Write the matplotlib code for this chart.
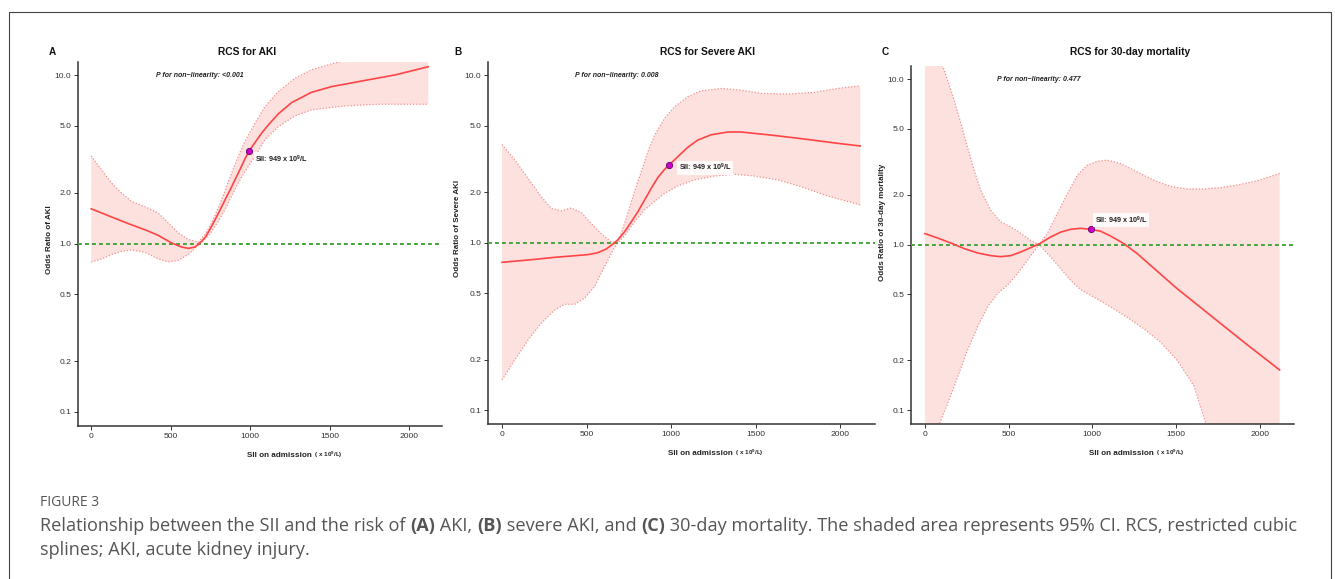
import numpy as np
import matplotlib
matplotlib.use('Agg')
import matplotlib.pyplot as plt
from matplotlib.lines import Line2D

plt.rcParams['font.family'] = ['Liberation Sans', 'DejaVu Sans']
plt.rcParams['mathtext.fontset'] = 'custom'
plt.rcParams['mathtext.rm'] = 'Liberation Sans'
plt.rcParams['mathtext.bf'] = 'Liberation Sans:bold'

W, H = 1335, 579

# ---- data (SII x10^9/L  ->  odds ratio) ----
# A: AKI
a_fit_x = [0, 128, 233, 337, 421, 505, 568, 610, 652, 694, 720, 757, 799, 840, 882, 924,
           966, 991, 1029, 1071, 1113, 1176, 1260, 1385, 1511, 1700, 1909, 2119]
a_fit = [1.61, 1.44, 1.315, 1.21, 1.12, 1.01, 0.955, 0.937, 0.955, 1.03, 1.10, 1.27, 1.51, 1.81,
         2.17, 2.62, 3.18, 3.54, 3.98, 4.53, 5.07, 5.90, 6.89, 7.93, 8.57, 9.25, 10.05, 11.25]
a_up_x = [0, 65, 128, 191, 254, 337, 421, 484, 547, 610, 673, 715, 757, 799, 840, 882, 924,
          966, 1029, 1092, 1176, 1281, 1385, 1511, 1595, 1800, 2119]
a_up = [3.32, 2.75, 2.29, 2.0, 1.78, 1.66, 1.52, 1.33, 1.16, 1.06, 1.02, 1.13, 1.33, 1.63, 2.04,
        2.62, 3.30, 4.04, 5.19, 6.52, 8.0, 9.6, 10.8, 11.7, 12.3, 13.0, 14.0]
a_lo_x = [0, 65, 128, 191, 254, 337, 421, 484, 547, 610, 673, 715, 757, 799, 840, 882, 924,
          966, 1029, 1092, 1176, 1281, 1385, 1595, 1805, 2119]
a_lo = [0.778, 0.811, 0.861, 0.901, 0.917, 0.889, 0.811, 0.778, 0.796, 0.861, 0.977, 1.06, 1.18,
        1.36, 1.59, 1.91, 2.29, 2.68, 3.30, 4.14, 4.96, 5.74, 6.23, 6.58, 6.73, 6.73]

# B: severe AKI
b_fit_x = [0, 114, 213, 311, 409, 508, 567, 616, 656, 685, 724, 764, 803, 843, 882, 921, 961,
           988, 1039, 1098, 1157, 1236, 1335, 1413, 1591, 1787, 1984, 2118]
b_fit = [0.763, 0.781, 0.798, 0.817, 0.832, 0.848, 0.871, 0.916, 0.982, 1.04, 1.16, 1.33, 1.53,
         1.80, 2.11, 2.45, 2.74, 2.91, 3.26, 3.71, 4.10, 4.41, 4.58, 4.58, 4.39, 4.16, 3.92, 3.78]
b_up_x = [0, 75, 154, 232, 291, 350, 409, 469, 528, 587, 646, 675, 705, 744, 783, 823, 862, 902,
          961, 1020, 1098, 1177, 1295, 1413, 1532, 1689, 1846, 1984, 2118]
b_up = [3.86, 3.12, 2.42, 1.88, 1.60, 1.55, 1.61, 1.51, 1.30, 1.13, 1.01, 1.0, 1.14, 1.50, 2.02,
        2.65, 3.49, 4.39, 5.52, 6.49, 7.44, 8.08, 8.34, 8.15, 7.79, 7.72, 7.90, 8.34, 8.65]
b_lo_x = [0, 75, 154, 232, 311, 370, 429, 488, 547, 606, 656, 685, 724, 783, 843, 902, 961, 1039,
          1138, 1256, 1374, 1492, 1630, 1768, 1925, 2118]
b_lo = [0.151, 0.199, 0.262, 0.330, 0.396, 0.428, 0.428, 0.466, 0.546, 0.719, 0.904, 1.0, 1.10,
        1.33, 1.57, 1.76, 1.97, 2.18, 2.37, 2.50, 2.56, 2.50, 2.37, 2.16, 1.90, 1.68]

# C: 30-day mortality
c_fit_x = [0, 76, 155, 235, 314, 394, 453, 513, 573, 632, 692, 751, 811, 871, 930, 990, 1050,
           1109, 1189, 1268, 1348, 1507, 1706, 1905, 2119]
c_fit = [1.166, 1.097, 1.023, 0.946, 0.891, 0.858, 0.846, 0.858, 0.903, 0.959, 1.023, 1.112,
         1.19, 1.238, 1.255, 1.238, 1.205, 1.128, 1.014, 0.883, 0.75, 0.542, 0.374, 0.258, 0.175]
c_up_x = [0, 50, 105, 135, 175, 215, 254, 294, 334, 394, 453, 513, 573, 632, 682, 732, 791, 851,
          911, 970, 1030, 1089, 1169, 1268, 1368, 1467, 1567, 1666, 1765, 1865, 1984, 2119]
c_up = [28, 20, 12.2, 9.86, 7.46, 5.39, 3.90, 2.82, 2.13, 1.61, 1.37, 1.28, 1.17, 1.06, 1.0, 1.17,
        1.54, 2.03, 2.63, 3.02, 3.19, 3.24, 3.09, 2.75, 2.45, 2.25, 2.17, 2.17, 2.21, 2.29, 2.43, 2.69]
c_lo_x = [0, 50, 91, 135, 195, 254, 314, 374, 433, 493, 553, 612, 682, 751, 811, 871, 930, 990,
          1070, 1149, 1229, 1308, 1407, 1507, 1606, 1676, 1800, 2119]
c_lo = [0.03, 0.055, 0.0846, 0.109, 0.158, 0.23, 0.318, 0.42, 0.506, 0.568, 0.668, 0.804, 1.0,
        0.842, 0.716, 0.608, 0.535, 0.494, 0.444, 0.397, 0.352, 0.31, 0.258, 0.2, 0.141, 0.0846,
        0.04, 0.012]

cut_x = 990                      # where the marker sits on the picture
cut_y = [3.54, 2.91, 1.24]
cut_label = r'SII: 949 x 10$^{\mathbf{9}}$/L'
label_off = [(4.5, -6), (6.5, -2), (3, 6.5)]   # points

titles = ['RCS for AKI', 'RCS for Severe AKI', 'RCS for 30-day mortality']
letters = ['A', 'B', 'C']
ylabels = ['Odds Ratio of AKI', 'Odds Ratio of Severe AKI', 'Odds Ratio of 30-day mortality']
p_texts = ['P for non\u2212linearity: <0.001', 'P for non\u2212linearity: 0.008',
           'P for non\u2212linearity: 0.477']

yticks = [0.1, 0.2, 0.5, 1, 2, 5, 10]
yticklabels = ['0.1', '0.2', '0.5', '1.0', '2.0', '5.0', '10.0']
xticks = [0, 500, 1000, 1500, 2000]

# axes boxes in pixels: left, right, top, bottom
boxes = [(78, 442, 62, 426), (488, 875, 62, 424), (911, 1294, 66, 424)]
ylab_off = [25, 27, 25]
ylab_y = [0.511, 0.541, 0.564]
title_pos = [247, 707, 1130]
letter_pos = [52, 458, 885]

panels = [
    (a_fit_x, a_fit, a_up_x, a_up, a_lo_x, a_lo),
    (b_fit_x, b_fit, b_up_x, b_up, b_lo_x, b_lo),
    (c_fit_x, c_fit, c_up_x, c_up, c_lo_x, c_lo),
]

fig = plt.figure(figsize=(W / 100, H / 100), dpi=100)

for i, (fx, fy, ux, uy, lx, ly) in enumerate(panels):
    l, r, t, b = boxes[i]
    ax = fig.add_axes([l / W, 1 - b / H, (r - l) / W, (b - t) / H])
    ax.set_yscale('log')

    ax.fill(np.r_[ux, lx[::-1]], np.r_[uy, ly[::-1]], color='#fde1de', lw=0, zorder=1)
    ax.plot(ux, uy, ls=(0, (1, 1.5)), color='#f39090', lw=0.9, zorder=2)
    ax.plot(lx, ly, ls=(0, (1, 1.5)), color='#f39090', lw=0.9, zorder=2)
    ax.axhline(1, color='#45a53a', ls=(0, (2, 1.6)), lw=1.4, zorder=3)
    ax.plot(fx, fy, color='#ff4545', lw=1.2, zorder=4, solid_joinstyle='round')
    ax.plot([cut_x], [cut_y[i]], 'o', ms=4.5, mfc='#cc00cc', mec='#660066', mew=0.6, zorder=5)
    ax.annotate(cut_label, xy=(cut_x, cut_y[i]), xytext=label_off[i], textcoords='offset points',
                ha='left', va='center', fontsize=5.2, fontweight='bold', color='#222222', zorder=6,
                bbox=dict(boxstyle='square,pad=0.2', fc='white', ec='none', alpha=0.85))
    ax.text(680, 10, p_texts[i], ha='center', va='center', fontsize=5.0,
            fontweight='bold', fontstyle='italic', color='#222222')

    ax.set_xlim(-83, 2205)
    ax.set_ylim(0.0825, 12)
    ax.set_yticks(yticks)
    ax.set_yticklabels(yticklabels)
    ax.minorticks_off()
    ax.set_xticks(xticks)
    ax.set_xticklabels([str(v) for v in xticks])
    ax.tick_params(length=3, width=0.7, labelsize=6.1, pad=2, colors='#333333')
    for s in ['top', 'right']:
        ax.spines[s].set_visible(False)
    for s in ['left', 'bottom']:
        ax.spines[s].set_linewidth(1.1)
        ax.spines[s].set_color('#333333')

    ax.set_ylabel(ylabels[i], fontsize=5.8, fontweight='bold', color='#222222')
    ax.yaxis.set_label_coords(-ylab_off[i] / (r - l), ylab_y[i])

    xl = ax.annotate('SII on admission', xy=(980, 0), xycoords=('data', 'axes fraction'),
                     xytext=(0, -21), textcoords='offset points', ha='left', va='center',
                     fontsize=5.9, fontweight='bold', color='#222222', annotation_clip=False)
    ax.annotate(r' ( x 10$^{\mathbf{9}}$/L)', xy=(1, 0.55), xycoords=xl, xytext=(1, 0),
                textcoords='offset points', ha='left', va='center', fontsize=4.5,
                fontweight='bold', color='#222222')

    fig.text(title_pos[i] / W, 1 - 52 / H, titles[i], ha='center', va='center',
             fontsize=7.4, fontweight='bold', color='#111111')
    fig.text(letter_pos[i] / W, 1 - 52 / H, letters[i], ha='center', va='center',
             fontsize=7.2, fontweight='bold', color='#111111')

# frame around the figure block
fig.add_artist(Line2D([9 / W, 9 / W, 1331 / W, 1331 / W], [0, 1 - 12 / H, 1 - 12 / H, 0],
                      transform=fig.transFigure, color='#444444', lw=0.8))

# caption
cap_kw = dict(fontsize=13.1, color='#555555', family=['Open Sans', 'DejaVu Sans'])
fig.text(40 / W, 1 - 506 / H, 'FIGURE 3', va='baseline', ha='left',
         fontsize=10, color='#555555', family=['Open Sans', 'DejaVu Sans'])

line1 = [('Relationship between the SII and the risk of ', False), ('(A)', True), (' AKI, ', False),
         ('(B)', True), (' severe AKI, and ', False), ('(C)', True),
         (' 30-day mortality. The shaded area represents 95% CI. RCS, restricted cubic', False)]
prev = fig.text(40 / W, 1 - 531 / H, line1[0][0], va='baseline', ha='left', **cap_kw)
for s, bold in line1[1:]:
    prev = ax.annotate(s, xy=(1, 0), xycoords=prev, xytext=(0, 0), textcoords='offset points',
                       ha='left', va='bottom', fontweight='bold' if bold else 'normal', **cap_kw)
fig.text(40 / W, 1 - 555 / H, 'splines; AKI, acute kidney injury.', va='baseline', ha='left',
         **cap_kw)

fig.savefig('out.png', dpi=100)
